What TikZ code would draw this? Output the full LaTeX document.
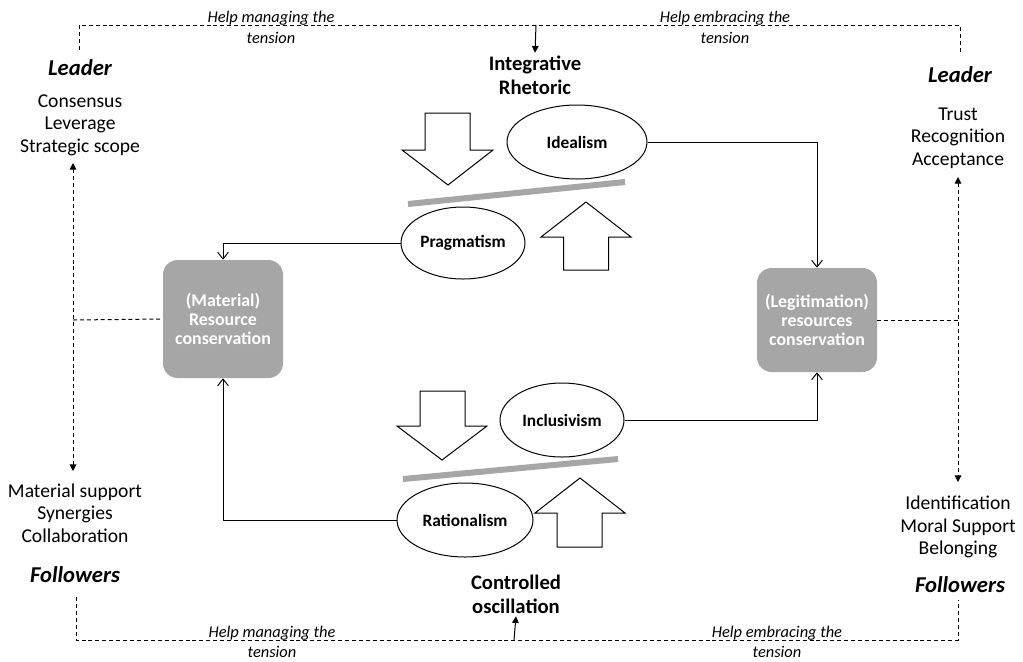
\documentclass[tikz,border=0pt]{standalone}
\usepackage{fontspec}
\setmainfont{Carlito}
\usetikzlibrary{arrows.meta,shapes.geometric}
\definecolor{boxgray}{HTML}{A6A6A6}
\begin{document}
\begin{tikzpicture}[x=0.75pt,y=-0.75pt,
  listtxt/.style={align=center,font=\fontsize{14.7}{17}\selectfont,inner sep=1pt},
  role/.style={font=\fontsize{17}{20}\selectfont\bfseries\itshape,inner sep=2pt},
  heading/.style={align=center,font=\fontsize{15.5}{18}\selectfont\bfseries,inner sep=2pt},
  lbl/.style={align=center,font=\fontsize{12.3}{16}\selectfont\itshape,inner sep=0pt},
  oval/.style={ellipse,draw,line width=0.75pt,inner sep=0pt,font=\fontsize{13}{15}\selectfont\bfseries},
  res/.style={rounded corners=11pt,fill=boxgray,text=white,align=center,inner sep=0pt,
    font=\fontsize{13.4}{14.5}\selectfont\bfseries},
  dline/.style={line width=0.75pt,dash pattern=on 3pt off 2.2pt},
  dtip/.style={-{Triangle[length=5pt,width=5pt]}},
  conn/.style={line width=0.75pt,-{Straight Barb[length=5pt,width=8pt]}},
  blockarrow/.style={draw,line width=0.75pt,fill=white,line join=miter},
  bar/.style={draw=boxgray,line width=4.5pt}
]
\useasboundingbox[fill=white] (0,0) rectangle (1023,661);

% headings
\node[heading] (rhet) at (535,75) {Integrative\\Rhetoric};
\node[heading] (osc) at (516,594) {Controlled\\oscillation};

% left side
\node[role] (leaderL) at (80,68) {Leader};
\node[listtxt] (listLT) at (80,125) {Consensus\\Leverage\\Strategic scope};
\node[listtxt] (listLB) at (75,513) {Material support\\Synergies\\Collaboration};
\node[role] (follL) at (75,575) {Followers};

% right side
\node[role] (leaderR) at (960,75) {Leader};
\node[listtxt] (listRT) at (958,138) {Trust\\Recognition\\Acceptance};
\node[listtxt] (listRB) at (958,527) {Identification\\Moral Support\\Belonging};
\node[role] (follR) at (960,585) {Followers};

% resource boxes
\node[res,minimum width=90pt,minimum height=88.5pt] (mat) at (223,319) {(Material)\\Resource\\conservation};
\node[res,minimum width=90pt,minimum height=78pt] (leg) at (817,320) {(Legitimation)\\resources\\conservation};

% ellipses
\node[oval,minimum width=105pt,minimum height=55.5pt] (ideal) at (577,142) {Idealism};
\node[oval,minimum width=93pt,minimum height=54pt] (prag) at (463,243) {Pragmatism};
\node[oval,minimum width=93pt,minimum height=55.5pt] (incl) at (562,420) {Inclusivism};
\node[oval,minimum width=102pt,minimum height=55.5pt] (rat) at (465,520) {Rationalism};

% block arrows and bars (upper)
\draw[blockarrow] (425,113) -- (470,113) -- (470,150) -- (493,150) -- (448,185) -- (402,150) -- (425,150) -- cycle;
\draw[blockarrow] (563.5,270) -- (608.5,270) -- (608.5,237) -- (631,237) -- (586,202) -- (541,237) -- (563.5,237) -- cycle;
\draw[bar] (408,204) -- (625,182);
% block arrows and bars (lower)
\draw[blockarrow] (420,391) -- (465,391) -- (465,426) -- (487,426) -- (442,460) -- (397,426) -- (420,426) -- cycle;
\draw[blockarrow] (557,547) -- (602,547) -- (602,513) -- (625,513) -- (580,478) -- (535,513) -- (557,513) -- cycle;
\draw[bar] (403,479) -- (618,459);

% solid connectors
\draw[conn] (prag.west) -| (mat.north);
\draw[conn] (rat.west) -| (mat.south);
\draw[conn] (ideal.east) -| (leg.north);
\draw[conn] (incl.east) -| (leg.south);

% dashed frame coordinates
\coordinate (tl) at (79,25);
\coordinate (tl0) at (79,50);
\coordinate (tr) at (960,25);
\coordinate (tr0) at (960,55);
\coordinate (tm) at (536,25);
\coordinate (bl) at (76,640);
\coordinate (bl0) at (76,597);
\coordinate (br) at (958,640);
\coordinate (br0) at (958,600);
\coordinate (bm) at (514,640);
\coordinate (lv1) at (73,163);
\coordinate (lv2) at (73,471);
\coordinate (lvm) at (73,320);
\coordinate (rv1) at (958,177);
\coordinate (rv2) at (958,482);
\coordinate (rvm) at (958,320);

\draw[dline] (tl0) -- (tl) -- (tr) -- (tr0);
\draw[dline] (bl0) -- (bl) -- (br) -- (br0);
\draw[line width=0.75pt,dtip] (tm) -- (rhet.north);
\draw[line width=0.75pt,dtip] (bm) -- (osc.south);
\draw[dline,{Triangle[length=5pt,width=5pt]}-{Triangle[length=5pt,width=5pt]}] (lv1) -- (lv2);
\draw[dline,{Triangle[length=5pt,width=5pt]}-{Triangle[length=5pt,width=5pt]}] (rv1) -- (rv2);
\draw[dline] (lvm) -- (mat.west);
\draw[dline] (leg.east) -- (rvm);

% labels
\node[lbl] (l1) at (271,27.5) {Help managing the\\tension};
\node[lbl] (l2) at (725,27.5) {Help embracing the\\tension};
\node[lbl,font=\fontsize{12.3}{15}\selectfont\itshape] (l3) at (272,641.5) {Help managing the\\tension};
\node[lbl,font=\fontsize{12.3}{15}\selectfont\itshape] (l4) at (777,641.5) {Help embracing the\\tension};
\end{tikzpicture}
\end{document}
